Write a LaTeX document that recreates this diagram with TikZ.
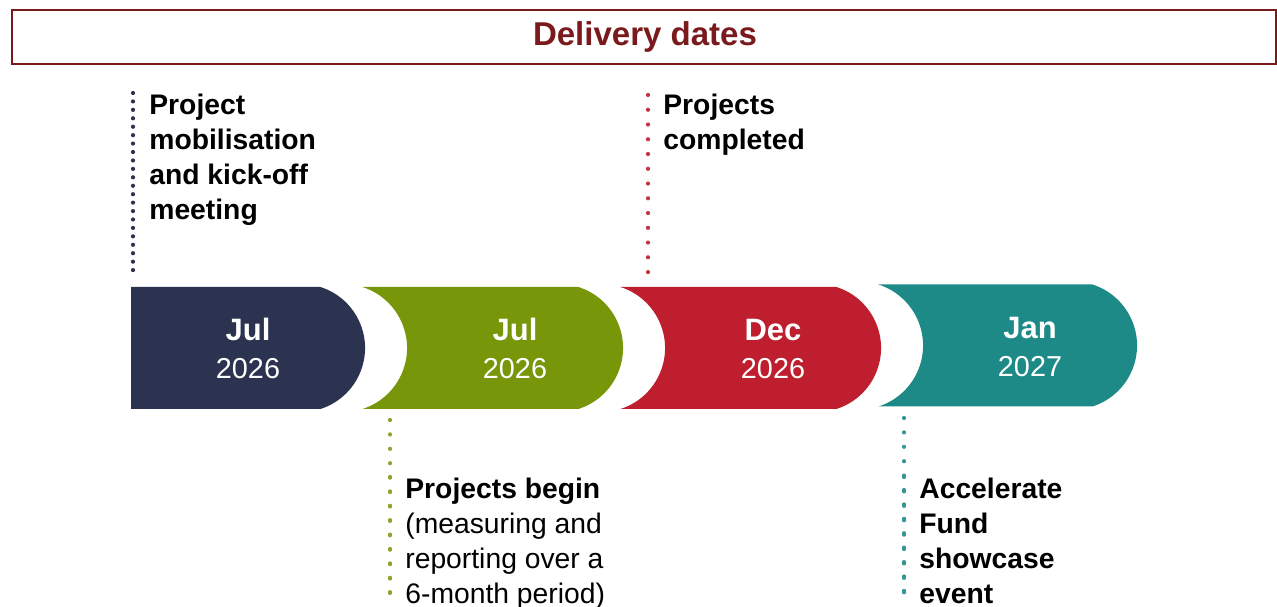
\documentclass[tikz,border=0pt]{standalone}
\usepackage{fontspec}
\setmainfont{Liberation Sans}
\definecolor{navyseg}{RGB}{43,51,80}
\definecolor{greenseg}{RGB}{119,150,10}
\definecolor{redseg}{RGB}{190,30,45}
\definecolor{tealseg}{RGB}{30,138,135}
\definecolor{titlered}{RGB}{122,26,28}
\tikzset{
    monthlbl/.style={inner sep=0,anchor=base,text=white,font=\fontsize{17.6}{20}\selectfont\bfseries},
    yearlbl/.style={inner sep=0,anchor=base,text=white,font=\fontsize{16.4}{20}\selectfont},
    notetxt/.style={inner sep=0,anchor=north west,align=left,font=\fontsize{16.1}{19.8}\selectfont},
    dotline/.style={line width=2.4pt,line cap=round,dash pattern=on 0pt off #1}
}
\begin{document}
\begin{tikzpicture}[x=0.02cm,y=0.02cm]
        \useasboundingbox (0,0) rectangle (1277,607);
        % title bar
        \draw[titlered,line width=1.1pt] (12,597) rectangle (1276,543);
        \node[inner sep=0,text=titlered,font=\fontsize{18.8}{22}\selectfont\bfseries] (title) at (645,570) {Delivery dates};
        % first segment, straight left edge
        \fill[navyseg] (131,320) -- (320.4,320) arc[start angle=72.4,end angle=-72.4,radius=64] -- (131,198) -- cycle;
        \node[monthlbl] (m1) at (248,266) {Jul};
        \node[yearlbl] (y1) at (248,228) {2026};
        % the other segments, concave left edge
        \foreach \a/\b/\m/\col/\mon/\yr/\n in {407/623/259/greenseg/Jul/2026/2, 665/881/259/redseg/Dec/2026/3, 923/1137/261.5/tealseg/Jan/2027/4}
        {
            \fill[\col] (\a-44.6,\m+61) -- (\b-44.6,\m+61) arc[start angle=72.4,end angle=-72.4,radius=64]
                -- (\a-44.6,\m-61) arc[start angle=-72.4,end angle=72.4,radius=64] -- cycle;
            \node[monthlbl] (m\n) at ({(\a+\b)/2},\m+7) {\mon};
            \node[yearlbl] (y\n) at ({(\a+\b)/2},\m-31) {\yr};
        }
        % notes
        \node[notetxt] (kickoff) at (149,513) {\bfseries Project\\\bfseries mobilisation\\\bfseries and kick-off\\\bfseries meeting};
        \node[notetxt] (completed) at (663,513) {\bfseries Projects\\\bfseries completed};
        \node[notetxt] (begin) at (405,129) {\bfseries Projects begin\\(measuring and\\reporting over a\\6-month period)};
        \node[notetxt] (showcase) at (919,129) {\bfseries Accelerate\\\bfseries Fund\\\bfseries showcase\\\bfseries event};
        % dotted leaders
        \coordinate (k1) at (133,514);
        \coordinate (k2) at (133,332);
        \coordinate (c1) at (648,512);
        \coordinate (c2) at (648,332);
        \coordinate (b1) at (390,187);
        \coordinate (b2) at (390,7);
        \coordinate (b3) at (390,130);
        \coordinate (s1) at (904,189);
        \coordinate (s2) at (904,7);
        \coordinate (s3) at (904,130);
        \draw[navyseg,dotline=4.8pt] (k1) -- (k2);
        \draw[redseg!90!white,dotline=8.4pt] (c1) -- (c2);
        \draw[greenseg!85!white,dotline=8.2pt] (b1) -- (b2);
        \draw[greenseg!85!white,dotline=8.2pt] (b3) -- (b2);
        \draw[tealseg!90!white,dotline=8.2pt] (s1) -- (s2);
        \draw[tealseg!90!white,dotline=8.2pt] (s3) -- (s2);
\end{tikzpicture}
\end{document}
